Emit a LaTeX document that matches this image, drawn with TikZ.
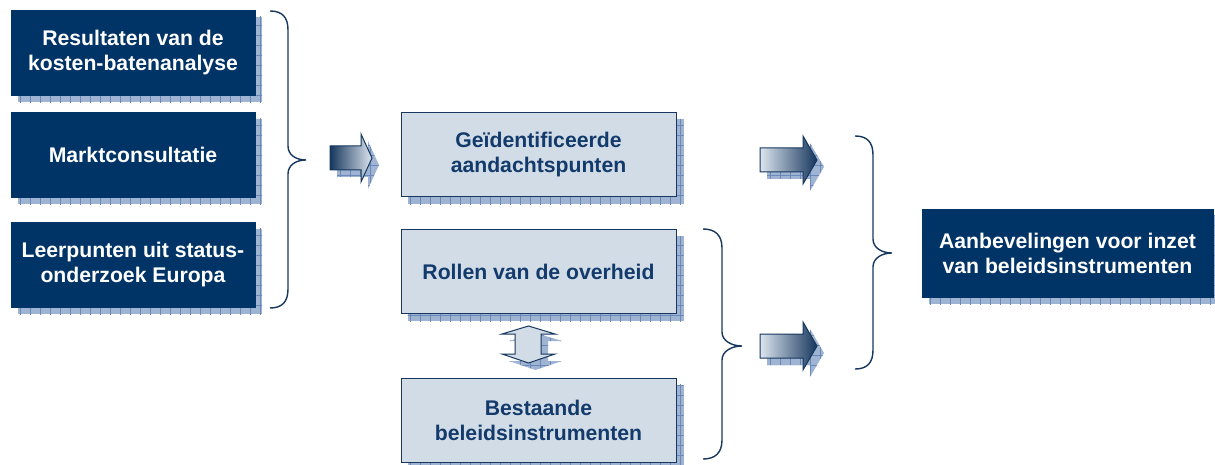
\documentclass[tikz,border=0pt]{standalone}
\usepackage{fontspec}
\setmainfont{Liberation Sans}
\usetikzlibrary{backgrounds,patterns.meta}
\definecolor{navy}{HTML}{003366}
\definecolor{navyline}{HTML}{17375E}
\definecolor{navytext}{HTML}{123A6B}
\definecolor{lightfill}{HTML}{D1DCE6}
\definecolor{shadowfill}{HTML}{9FB3D2}
\definecolor{shadowgrid}{HTML}{6A89B8}
\definecolor{arrowlight}{HTML}{DCE5EE}
\tikzset{
  darkbox/.style={fill=navy, draw=navy, text=white, font=\bfseries\fontsize{21.2}{25}\selectfont,
    align=center, inner sep=0pt, minimum width=244pt, minimum height=85pt},
  lightbox/.style={fill=lightfill, draw=navyline, line width=1pt, text=navytext,
    font=\bfseries\fontsize{21.2}{25}\selectfont, align=center, inner sep=0pt,
    minimum width=275pt, minimum height=84pt},
  shadowpat/.style={fill=shadowfill, postaction={pattern={Hatch[angle=0,distance=10pt,line width=0.7pt]}, pattern color=shadowgrid}},
  bracestyle/.style={draw=navyline, line width=1.4pt},
  blockarrow/.style={draw=navyline, line width=1pt}
}
\newcommand\boxshadow[1]{\path[shadowpat] ([shift={(7,7)}]#1.north west) rectangle ([shift={(7,7)}]#1.south east);}
% x0, yc, body length, head length
\newcommand\rarrowshape[4]{(#1,#2-12) -- (#1+#3,#2-12) -- (#1+#3,#2-24) -- (#1+#3+#4,#2) -- (#1+#3,#2+24) -- (#1+#3,#2+12) -- (#1,#2+12) -- cycle}
\newcommand\rblockarrow[6]{%
  \begin{scope}[shift={(7,7)}]\path[shadowpat] \rarrowshape{#1}{#2}{#3}{#4};\end{scope}
  \path[blockarrow, left color=#5, right color=#6] \rarrowshape{#1}{#2}{#3}{#4};}
% xl, ytop, xv, xtip, ytip, ybot
\newcommand\curlybrace[6]{%
  \draw[bracestyle] (#1,#2) .. controls (#1+12,#2) and (#3,#2+6) .. (#3,#2+19) -- (#3,#5-14)
   .. controls (#3,#5-5) and (#4-10,#5) .. (#4,#5)
   .. controls (#4-10,#5) and (#3,#5+5) .. (#3,#5+14) -- (#3,#6-19)
   .. controls (#3,#6-6) and (#1+12,#6) .. (#1,#6);}
\begin{document}
\begin{tikzpicture}[x=1pt,y=-1pt]
\useasboundingbox (0,0) rectangle (1215,465);
% boxes
\node[darkbox] (kba) at (133,52.5) {Resultaten van de\\kosten-batenanalyse};
\node[darkbox] (mc) at (133,154.5) {Marktconsultatie};
\node[darkbox] (lp) at (133,264.5) {Leerpunten uit status-\\onderzoek Europa};
\node[lightbox] (ga) at (538.5,155) {Geïdentificeerde\\aandachtspunten};
\node[lightbox] (ro) at (538.5,271.5) {Rollen van de overheid};
\node[lightbox] (bi) at (538.5,420) {Bestaande\\beleidsinstrumenten};
\node[darkbox, minimum width=291pt, minimum height=88pt] (ab) at (1067.5,253) {Aanbevelingen voor inzet\\van beleidsinstrumenten};
\begin{pgfonlayer}{background}
  \foreach \b in {kba,mc,lp,ga,ro,bi,ab} {\boxshadow{\b}}
\end{pgfonlayer}
% braces
\curlybrace{270}{11}{288}{306}{160}{308}
\curlybrace{703}{229}{722}{742}{346}{459}
\curlybrace{855}{136}{873}{892}{253}{369}
% block arrows
\rblockarrow{330}{158}{31}{11}{navyline}{arrowlight}
\rblockarrow{760}{160}{43}{14}{arrowlight}{navyline}
\rblockarrow{760}{346}{43}{14}{arrowlight}{navyline}
% double arrow
\begin{scope}[shift={(7,7)}]
\path[shadowpat] (528.5,326) -- (555,334) -- (541,334) -- (541,354) -- (555,354) -- (528.5,363) -- (502,354) -- (515,354) -- (515,334) -- (502,334) -- cycle;
\end{scope}
\path[blockarrow, fill=lightfill] (528.5,326) -- (555,334) -- (541,334) -- (541,354) -- (555,354) -- (528.5,363) -- (502,354) -- (515,354) -- (515,334) -- (502,334) -- cycle;
\end{tikzpicture}
\end{document}
